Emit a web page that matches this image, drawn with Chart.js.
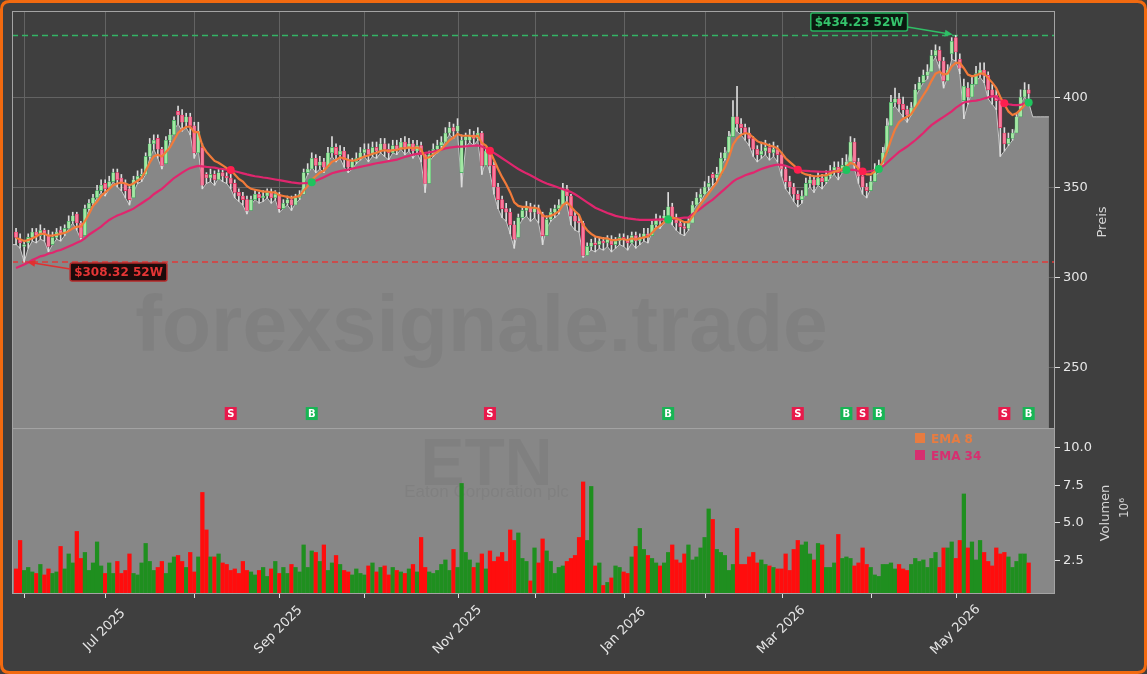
<!DOCTYPE html>
<html><head><meta charset="utf-8">
<script src="https://cdn.jsdelivr.net/npm/chart.js@4.4.1/dist/chart.umd.min.js"></script>
<style>html,body{margin:0;padding:0;background:#3f3f3f;}canvas{display:block;}</style>
</head><body>
<canvas id="c" width="1147" height="674"></canvas>
<script>
// ---------- DATA (trading-day index 0 = 29 May 2025 ... 250 = 28 May 2026) ----------
const openP = [
325,321,317,319,322,325,323,326,323,318,
322,326,324,327,331,335,330,323,338,341,
344,348,352,350,353,358,355,352,349,344,
354,356,357,367,374,377,371,363,376,379,
392,390,386,389,384,369,372,357,355,357,
354,358,356,355,352,347,345,343,337,343,
346,344,345,347,344,346,338,341,343,340,
344,346,358,360,366,362,364,361,369,372,
368,370,365,361,364,366,369,371,368,372,
370,374,371,369,373,371,375,372,374,370,
373,368,352,368,371,373,375,380,383,381,
358,376,376,379,377,380,362,370,362,350,
343,338,336,329,322,333,337,339,336,338,
335,323,332,336,338,340,349,345,334,331,
330,312,317,319,318,320,319,321,318,320,
322,321,319,323,320,322,324,323,329,332,
331,334,339,333,330,328,327,330,340,344,
346,350,357,355,357,366,369,378,389,385,
383,380,377,371,368,370,372,369,371,368,
360,353,350,346,343,345,352,354,351,355,
353,356,359,361,358,362,364,375,364,356,
350,348,353,360,362,369,384,397,399,396,
393,390,394,404,408,412,414,423,426,420,
409,424,433,421,398,405,400,407,413,415,
412,404,401,398,380,374,377,380,389,400,404];
const highP = [
327,324,320,324,327,327,329,327,326,325,
327,328,329,334,336,336,331,340,343,346,
351,354,354,356,360,360,357,354,351,356,
359,360,369,377,379,379,372,378,382,389,
395,393,391,391,386,386,374,358,360,359,
360,360,358,357,354,349,347,345,345,348,
347,348,349,349,348,347,343,345,345,346,
348,360,363,369,368,367,366,372,378,374,
373,372,368,366,369,372,374,374,375,375,
377,377,374,376,376,377,378,377,376,376,
375,369,370,374,376,378,383,386,385,388,
379,380,382,381,383,381,372,372,364,352,
345,341,338,331,335,339,342,341,340,340,
336,334,338,340,343,352,351,346,336,334,
331,319,321,322,322,322,323,323,322,324,
324,323,325,325,324,327,327,331,335,334,
337,347,341,335,332,330,333,342,347,349,
353,356,358,361,369,372,381,398,406,388,
385,383,378,373,375,376,374,375,373,369,
362,356,352,348,348,355,357,356,358,357,
359,362,364,364,366,368,378,377,366,359,
352,356,363,365,372,388,401,405,402,400,
395,397,407,411,415,418,426,429,428,422,
418,433,434.23,424,410,408,411,417,419,419,
414,407,404,399,383,380,382,391,404,408,407];
const lowP = [
318,316,308.32,316,320,319,321,320,314,318,
321,320,323,327,330,326,321,333,337,340,
344,347,345,349,353,350,348,344,340,347,
352,353,357,366,371,366,360,366,375,382,
385,381,383,379,366,371,349,352,353,351,
355,353,352,349,344,342,340,335,340,343,
341,342,344,341,343,336,338,340,337,341,
343,352,357,361,358,360,358,364,367,364,
366,361,358,360,363,365,367,364,367,366,
369,367,365,369,368,371,368,370,366,369,
364,347,364,367,369,371,376,379,377,380,
350,372,375,373,376,357,365,358,346,338,
333,331,324,316,328,332,334,331,333,330,
318,327,331,333,335,344,340,329,326,325,
311,313,315,314,316,315,317,314,316,318,
317,315,319,316,318,320,319,325,328,327,
330,335,329,326,324,323,326,336,340,342,
346,348,351,353,362,365,374,385,381,379,
376,373,367,364,366,368,365,367,364,356,
349,346,342,339,341,348,350,347,351,349,
352,355,357,354,358,360,371,360,352,346,
344,349,356,358,365,380,393,395,392,389,
386,390,400,404,408,410,419,422,416,405,
411,421,420,413,388,396,403,409,411,408,
399,396,393,367,370,373,376,385,396,400,397];
const closeP = [
322,319,318,322,325,323,326,324,317,322,
325,324,327,331,334,330,322,338,341,344,
348,351,349,353,358,354,352,348,343,354,
356,357,367,374,376,371,362,376,379,387,
390,386,389,384,369,381,351,355,357,354,
358,356,355,352,347,345,343,337,343,346,
344,345,347,344,346,338,341,343,340,344,
346,358,360,366,362,364,361,369,372,368,
370,365,361,364,366,369,371,368,372,370,
374,371,369,373,371,375,372,374,370,373,
368,352,368,371,373,375,380,383,381,384,
376,378,379,377,380,362,370,362,350,343,
338,336,329,321,333,337,339,336,338,335,
323,332,336,338,340,349,345,334,331,330,
312,317,319,318,320,319,321,318,320,322,
321,319,323,320,322,324,323,329,332,331,
334,339,333,330,328,327,330,340,344,346,
350,352,355,357,366,369,378,389,385,383,
380,377,371,368,370,372,369,371,368,360,
353,350,346,343,345,352,354,351,355,353,
356,359,361,358,362,364,375,364,356,350,
348,353,360,362,369,384,397,399,396,393,
390,394,404,408,412,414,423,426,420,409,
415,431,425,416,406,400,407,413,415,412,
404,401,398,383,374,377,380,389,400,404,402];
const volM = [
1.9,3.8,1.8,2.0,1.7,1.6,2.2,1.5,1.9,1.6,
1.7,3.4,1.9,2.9,2.3,4.4,2.6,3.0,1.8,2.3,
3.7,2.1,1.6,2.3,1.6,2.4,1.6,1.8,2.9,1.6,
1.5,2.3,3.6,2.4,1.8,2.0,2.4,1.6,2.3,2.7,
2.8,2.4,2.0,3.0,1.7,2.7,7.0,4.5,2.7,2.7,
2.9,2.3,2.2,1.8,1.9,1.6,2.4,1.8,1.7,1.5,
1.8,2.0,1.4,1.9,2.4,1.6,2.0,1.6,2.2,2.0,
1.7,3.5,2.0,3.1,3.0,2.4,3.5,1.8,2.3,2.8,
2.2,1.8,1.7,1.5,1.9,1.6,1.5,2.1,2.3,1.7,
2.0,2.1,1.5,2.0,1.8,1.7,1.6,1.9,2.2,1.7,
4.0,2.0,1.7,1.6,1.8,2.2,2.5,1.8,3.2,2.0,
7.6,3.0,2.5,2.0,2.3,2.9,1.9,3.1,2.4,2.7,
3.0,2.4,4.5,3.8,4.3,2.6,2.4,1.1,3.3,2.3,
3.9,3.1,2.4,1.6,2.0,2.1,2.4,2.6,2.8,4.0,
7.7,3.8,7.4,2.1,2.3,0.8,1.0,1.3,2.1,2.0,
1.7,1.6,2.7,3.4,4.6,3.2,2.8,2.6,2.3,2.1,
2.3,3.0,3.5,2.5,2.3,2.9,3.5,2.5,2.7,3.3,
4.0,5.9,5.2,3.2,3.0,2.8,1.8,2.2,4.6,2.2,
2.2,2.7,3.0,2.3,2.5,2.2,2.1,2.0,1.9,1.9,
2.9,1.8,3.2,3.8,3.5,3.7,2.9,2.5,3.6,3.5,
2.0,2.0,2.3,4.2,2.6,2.7,2.6,2.1,2.3,3.3,
2.2,2.0,1.5,1.4,2.2,2.2,2.3,1.9,2.2,1.9,
1.8,2.2,2.6,2.4,2.5,2.0,2.6,3.0,2.0,3.3,
3.3,3.7,2.6,3.8,6.9,3.3,3.7,2.5,3.8,3.0,
2.4,2.1,3.3,2.9,3.0,2.7,2.0,2.4,2.9,2.9,2.3];
const ema8 = [
321.7,321,320,320.5,321.5,322.5,324,324,323,323,
323.5,324,324.5,325.5,327,328,328,331,335,339.5,
342,345,347,349,351,352,352.5,352,351,352,
353.5,355,359,363.5,367,368,367,369.5,372,376,
380,382,383.5,383.5,380.5,380.5,373,369.5,367,364.5,
363.5,362,360.5,359.5,357,354.5,353,350.5,349,348.5,
348,347.5,347.5,347,347,345.5,345,344.5,344,344.5,
345,348,350.5,354,356,358,359,361.5,364,365,
366.5,366,365,364.5,365,366,367,367.5,368.5,369,
370,370.5,370,370.5,370.5,371.5,371.5,372,371.5,372,
371,366,366.5,368,369.5,371,373.5,376,377.5,379.5,
378.5,378.5,378.5,378,378.5,374.5,373,370,365,360,
355.5,351.5,347,341.5,339.5,339,339,338.5,338.5,338,
334,333.5,334,335,336.5,340,341.5,339,336.5,334.5,
329,326,324,322.5,322,321.5,321.5,320.5,320.5,321,
321,320.5,321.5,321,321.5,322,322.5,324.5,327,328.5,
330.5,332.5,333,332.5,331.5,330.5,330.5,333.5,337,340.5,
343.5,346.5,349.5,352.5,357,361,366.5,373.5,377,379,
380,379.5,377.5,375.5,374.5,374,373,372.5,371.5,369,
366,364,362,360,358,357,356.5,356,356,356.5,
356.5,357.5,358.5,359,360,361.5,363.5,362.5,360,358,
357,357,358.5,360.5,364,369.5,376,382,386,388,
389,390.5,394,397.5,401,404.5,409,413,414,412.5,
413,417,419,419,416,412.5,411.5,412,413,413,
410.5,408,405,400,396,392,390,391,393,395.5,397.5];
const ema34 = [
305,306,307,308,309.5,310.5,311.5,312,313,313.5,
314.5,315,316,317,318,319,320,321.5,323.5,325,
326.5,328,330,331.7,333,334.2,335,336,337,338,
339.5,341,342.5,344,346,347.5,349,351,353,355,
356.5,358,359.4,360.5,361.2,361.7,361.5,361.2,361,360.8,
360.3,360,359.7,359.4,358.8,358.2,357.6,357,356.5,356,
355.7,355.3,355,354.6,354.2,353.8,353.4,353,352.6,352.3,
352,352.1,352.3,352.6,353.5,354.5,355.5,356.5,357.7,358.3,
358.8,359.3,359.7,360.2,360.7,361.2,361.7,362.2,362.7,363.2,
363.6,364,364.4,364.8,365.2,366,366.7,367.3,368,368.4,
368.8,369,369.3,369.7,370.2,370.8,371.5,371.9,372.2,372.5,
372.4,372.6,372.8,373,373.1,372.5,371.5,370.2,369,367.5,
366,364.5,363,361.5,360,358.8,357.6,356.5,355.3,354.1,
353,352,351.2,350.4,349.6,348.8,348,347.2,346,344.5,
343,341.5,340,338.5,337.5,336.5,335.6,334.8,334,333.5,
333,332.6,332.3,332,331.8,331.7,331.7,331.8,331.9,332,
332,332,332.3,332.5,332.7,333,333,335,336.5,338,
339.8,341.5,343,345,347,349,351,353,354.5,355.5,
356.5,357.3,358,359,360,360.8,361.5,362,362.5,362.3,
361.8,361,360.3,359.6,359.2,359,358.8,358.7,358.6,358.5,
358.5,358.6,358.8,359,359.2,359.4,359.6,359.5,359,358.6,
358.5,358.8,359.3,360,361.5,363.5,365.5,367.5,369.5,371,
372.5,374.2,376,378,380,382.3,384.4,386,387.5,389,
390.5,392,394,395.5,397,397.5,397.8,398,398.5,399.2,
399.8,400.5,400,398.5,396.5,396,395.6,395.5,395.6,396.5,397];
const fillTail = [389,389,389,389,389];          // flat tail of the shaded area after the last session
const sigIdx  = [53,73,117,161,193,205,209,213,244,250];
const sigType = ['S','B','S','B','S','B','S','B','S','B'];
const monthTickIdx    = [2,22,44,65,86,109,128,150,170,189,211,232];
const monthTickLabels = ['','Jul 2025','','Sep 2025','','Nov 2025','','Jan 2026','','Mar 2026','','May 2026'];
const priceTicks = [250,300,350,400];
const volTicks   = [2.5,5,7.5,10];
const hi52 = 434.23, lo52 = 308.32;
const symbol = 'ETN', company = 'Eaton Corporation plc';

// ---------- LAYOUT / STYLE ----------
const PRICE_MIN = 123.9, PRICE_MAX = 447.8, PRICE_FLOOR = 216.1;
const VOL_MIN = 0.23, VOL_MAX = 39.1;
const BG = '#3f3f3f', PANEL = '#878787';
const UP_FILL = '#a3e8a3', UP_EDGE = '#3aa55a', DN_FILL = '#f77c9c', DN_EDGE = '#e0285a';
const C_EMA8 = '#f27b3a', C_EMA34 = '#e0266e';
const FONT = '"DejaVu Sans", Verdana, sans-serif';
const WM = 'rgba(0,0,0,0.05)';

const N = Math.min(openP.length, highP.length, lowP.length, closeP.length, volM.length);
const idx = Array.from({length: N}, (_, i) => i);
const isUp = i => closeP[i] >= openP[i];

const areaData = [{x: -1, y: lowP[0]}]
  .concat(idx.map(i => ({x: i, y: lowP[i]})))
  .concat(fillTail.map((v, k) => ({x: N + k, y: v})));

function arrow(ctx, x1, y1, x2, y2, color) {
  ctx.strokeStyle = color; ctx.fillStyle = color; ctx.lineWidth = 1.5;
  const ang = Math.atan2(y2 - y1, x2 - x1), L = 8, W = 3.5;
  ctx.beginPath(); ctx.moveTo(x1, y1); ctx.lineTo(x2 - L * Math.cos(ang) * 0.6, y2 - L * Math.sin(ang) * 0.6); ctx.stroke();
  ctx.beginPath(); ctx.moveTo(x2, y2);
  ctx.lineTo(x2 - L * Math.cos(ang) + W * Math.sin(ang), y2 - L * Math.sin(ang) - W * Math.cos(ang));
  ctx.lineTo(x2 - L * Math.cos(ang) - W * Math.sin(ang), y2 - L * Math.sin(ang) + W * Math.cos(ang));
  ctx.closePath(); ctx.fill();
}
function roundRect(ctx, x, y, w, h, r) {
  ctx.beginPath(); ctx.moveTo(x + r, y); ctx.lineTo(x + w - r, y); ctx.quadraticCurveTo(x + w, y, x + w, y + r);
  ctx.lineTo(x + w, y + h - r); ctx.quadraticCurveTo(x + w, y + h, x + w - r, y + h);
  ctx.lineTo(x + r, y + h); ctx.quadraticCurveTo(x, y + h, x, y + h - r);
  ctx.lineTo(x, y + r); ctx.quadraticCurveTo(x, y, x + r, y); ctx.closePath();
}

const deco = {
  id: 'deco',
  beforeDraw(chart) {
    const c = chart.ctx; c.save(); c.fillStyle = BG; c.fillRect(0, 0, chart.width, chart.height); c.restore();
  },
  beforeDatasetsDraw(chart) {
    const {ctx, chartArea: a, scales: {x, y}} = chart;
    const pb = y.getPixelForValue(PRICE_FLOOR);
    ctx.save();
    ctx.strokeStyle = '#636363'; ctx.lineWidth = 1;
    monthTickIdx.forEach(i => {
      const px = Math.round(x.getPixelForValue(i)) + 0.5;
      ctx.beginPath(); ctx.moveTo(px, a.top); ctx.lineTo(px, pb); ctx.stroke();
    });
    priceTicks.forEach(v => {
      const py = Math.round(y.getPixelForValue(v)) + 0.5;
      ctx.beginPath(); ctx.moveTo(a.left, py); ctx.lineTo(a.right, py); ctx.stroke();
    });
    ctx.fillStyle = PANEL; ctx.fillRect(a.left, pb, a.right - a.left, a.bottom - pb);
    // watermark in volume panel
    const cx = (a.left + a.right) / 2 - 47;
    ctx.fillStyle = WM; ctx.textAlign = 'center'; ctx.textBaseline = 'alphabetic';
    ctx.font = 'bold 66px "Liberation Sans", Arial, sans-serif';
    ctx.fillText(symbol, cx, pb + 57);
    ctx.font = '17px "Liberation Sans", Arial, sans-serif';
    ctx.fillText(company, cx, pb + 69);
    ctx.restore();
  },
  afterDatasetDraw(chart, args) {
    if (args.index !== 0) return;
    const {ctx, chartArea: a, scales: {x, y}} = chart;
    ctx.save();
    ctx.font = 'bold 78px "Liberation Sans", Arial, sans-serif';
    const w = ctx.measureText('forexsignale.trade').width;
    const s = 693 / w;
    ctx.font = 'bold ' + (78 * s).toFixed(1) + 'px "Liberation Sans", Arial, sans-serif';
    ctx.fillStyle = WM; ctx.textAlign = 'center'; ctx.textBaseline = 'alphabetic';
    ctx.fillText('forexsignale.trade', (a.left + a.right) / 2 - 52, 351);
    ctx.lineWidth = 1.6; ctx.setLineDash([6, 4]);
    ctx.strokeStyle = '#33b565';
    let py = y.getPixelForValue(hi52);
    ctx.beginPath(); ctx.moveTo(a.left, py); ctx.lineTo(a.right, py); ctx.stroke();
    ctx.strokeStyle = '#e03a3a';
    py = y.getPixelForValue(lo52);
    ctx.beginPath(); ctx.moveTo(a.left, py); ctx.lineTo(a.right, py); ctx.stroke();
    ctx.restore();
  },
  afterDatasetsDraw(chart) {
    const {ctx, chartArea: a, scales: {x, y, yv}} = chart;
    const pb = y.getPixelForValue(PRICE_FLOOR);
    ctx.save();
    ctx.font = 'bold 10px ' + FONT; ctx.textAlign = 'center'; ctx.textBaseline = 'middle';
    sigIdx.forEach((i, k) => {
      const px = x.getPixelForValue(i);
      ctx.fillStyle = sigType[k] === 'S' ? '#e8194b' : '#17b554';
      ctx.fillRect(px - 6, pb - 21, 12, 13);
      ctx.fillStyle = '#ffffff';
      ctx.fillText(sigType[k], px, pb - 14);
    });
    const hiI = highP.indexOf(Math.max(...highP));
    const loI = lowP.indexOf(Math.min(...lowP));
    const hx = x.getPixelForValue(hiI), hy = y.getPixelForValue(hi52);
    const lx = x.getPixelForValue(loI), ly = y.getPixelForValue(lo52);
    ctx.font = 'bold 12px ' + FONT; ctx.textAlign = 'left'; ctx.textBaseline = 'middle';
    let t = '$' + hi52.toFixed(2) + ' 52W';
    let tw = ctx.measureText(t).width;
    let bx = hx - 145, by = 13;
    roundRect(ctx, bx, by, tw + 8, 18, 2);
    ctx.fillStyle = '#0b1a10'; ctx.fill(); ctx.lineWidth = 1.5; ctx.strokeStyle = '#27b35f'; ctx.stroke();
    ctx.fillStyle = '#35c46c'; ctx.fillText(t, bx + 4, by + 9.5);
    arrow(ctx, bx + tw + 8, by + 14, hx - 3, hy - 1, '#2fbf66');
    t = '$' + lo52.toFixed(2) + ' 52W';
    tw = ctx.measureText(t).width;
    bx = lx + 46; by = ly + 1;
    roundRect(ctx, bx, by, tw + 8, 18, 2);
    ctx.fillStyle = '#1c0b0b'; ctx.fill(); ctx.lineWidth = 1.5; ctx.strokeStyle = '#b52a2a'; ctx.stroke();
    ctx.fillStyle = '#e53535'; ctx.fillText(t, bx + 4, by + 9.5);
    arrow(ctx, bx, by + 6, lx + 3, ly, '#e03030');
    ctx.font = 'bold 12px ' + FONT; ctx.textBaseline = 'alphabetic';
    ctx.fillStyle = C_EMA8; ctx.globalAlpha = 0.9; ctx.fillRect(915, 433, 10, 10);
    ctx.fillText('EMA 8', 931, 443);
    ctx.fillStyle = C_EMA34; ctx.fillRect(915, 450, 10, 10);
    ctx.fillText('EMA 34', 931, 460);
    ctx.globalAlpha = 1;
    ctx.strokeStyle = '#a4a4a4'; ctx.lineWidth = 1;
    ctx.strokeRect(a.left + 0.5, a.top + 0.5, a.right - a.left - 1, pb - a.top);
    ctx.strokeRect(a.left + 0.5, pb + 0.5, a.right - a.left - 1, a.bottom - pb - 1);
    ctx.fillStyle = '#e6e6e6'; ctx.strokeStyle = '#e0e0e0';
    ctx.font = '13px ' + FONT; ctx.textAlign = 'left'; ctx.textBaseline = 'middle';
    priceTicks.forEach(v => {
      const p = Math.round(y.getPixelForValue(v)) + 0.5;
      ctx.beginPath(); ctx.moveTo(a.right, p); ctx.lineTo(a.right + 5, p); ctx.stroke();
      ctx.fillText(String(v), a.right + 8, p);
    });
    volTicks.forEach(v => {
      const p = Math.round(yv.getPixelForValue(v)) + 0.5;
      ctx.beginPath(); ctx.moveTo(a.right, p); ctx.lineTo(a.right + 5, p); ctx.stroke();
      ctx.fillText(v.toFixed(1), a.right + 8, p);
    });
    monthTickIdx.forEach((i, k) => {
      const px = Math.round(x.getPixelForValue(i)) + 0.5;
      ctx.beginPath(); ctx.moveTo(px, a.bottom); ctx.lineTo(px, a.bottom + 4); ctx.stroke();
      if (monthTickLabels[k]) {
        ctx.save(); ctx.translate(px - 1, a.bottom + 36); ctx.rotate(-Math.PI / 4);
        ctx.textAlign = 'center'; ctx.fillText(monthTickLabels[k], 0, 0); ctx.restore();
      }
    });
    ctx.fillStyle = '#d6d6d6'; ctx.textAlign = 'center';
    const rot = (txt, cx, cy, f) => { ctx.save(); ctx.translate(cx, cy); ctx.rotate(-Math.PI / 2); ctx.font = f; ctx.fillText(txt, 0, 0); ctx.restore(); };
    rot('Preis', 1103, 222, '13px ' + FONT);
    rot('Volumen', 1106, 513, '13px ' + FONT);
    rot('10\u2076', 1125, 508, '12px ' + FONT);
    ctx.restore();
  },
  afterDraw(chart) {
    const c = chart.ctx; c.save();
    roundRect(c, 1.5, 1.5, chart.width - 3, chart.height - 3, 8);
    c.lineWidth = 3; c.strokeStyle = '#f26a10'; c.stroke(); c.restore();
  }
};

new Chart(document.getElementById('c'), {
  type: 'bar',
  data: {
    datasets: [
      { type: 'line', label: 'area', data: areaData, yAxisID: 'y', order: 20,
        fill: { value: PRICE_FLOOR }, backgroundColor: PANEL, borderColor: '#c8c8c8', borderWidth: 1,
        pointRadius: 0, tension: 0 },
      { type: 'bar', label: 'wick', data: idx.map(i => ({x: i, y: [lowP[i], highP[i]]})), yAxisID: 'y',
        order: 15, grouped: false, barThickness: 1, backgroundColor: '#dcdcdc', borderWidth: 0 },
      { type: 'bar', label: 'body', yAxisID: 'y', order: 14, grouped: false, barThickness: 3.4,
        data: idx.map(i => ({x: i, y: [Math.min(openP[i], closeP[i]), Math.max(openP[i], closeP[i])]})),
        backgroundColor: c => isUp(c.dataIndex) ? UP_FILL : DN_FILL,
        borderColor: c => isUp(c.dataIndex) ? UP_EDGE : DN_EDGE, borderWidth: 0.6, borderSkipped: false },
      { type: 'bar', label: 'volume', yAxisID: 'yv', order: 13, grouped: false, barThickness: 3.6,
        data: idx.map(i => ({x: i, y: volM[i]})),
        backgroundColor: c => isUp(c.dataIndex) ? '#1f8f1f' : '#ff0d0d', borderWidth: 0 },
      { type: 'line', label: 'EMA 34', yAxisID: 'y', order: 6, data: idx.map(i => ({x: i, y: ema34[i]})),
        borderColor: C_EMA34, borderWidth: 2.2, pointRadius: 0, tension: 0 },
      { type: 'line', label: 'EMA 8', yAxisID: 'y', order: 5, data: idx.map(i => ({x: i, y: ema8[i]})),
        borderColor: C_EMA8, borderWidth: 2.2, pointRadius: 0, tension: 0 },
      { type: 'line', label: 'signals', yAxisID: 'y', order: 2, showLine: false,
        data: sigIdx.map(i => ({x: i, y: ema34[i]})),
        pointRadius: 4, pointBorderWidth: 0,
        pointBackgroundColor: c => sigType[c.dataIndex] === 'S' ? '#ff1f4f' : '#1fc45e' }
    ]
  },
  options: {
    responsive: false, animation: false, devicePixelRatio: 1,
    layout: { padding: { left: 12, top: 11, right: 92, bottom: 80 } },
    plugins: { legend: { display: false }, tooltip: { enabled: false } },
    scales: {
      x: { type: 'linear', min: -1, max: 256.5, display: false, offset: false },
      y: { type: 'linear', min: PRICE_MIN, max: PRICE_MAX, display: false },
      yv: { type: 'linear', min: VOL_MIN, max: VOL_MAX, display: false }
    }
  },
  plugins: [deco]
});
</script></body></html>
